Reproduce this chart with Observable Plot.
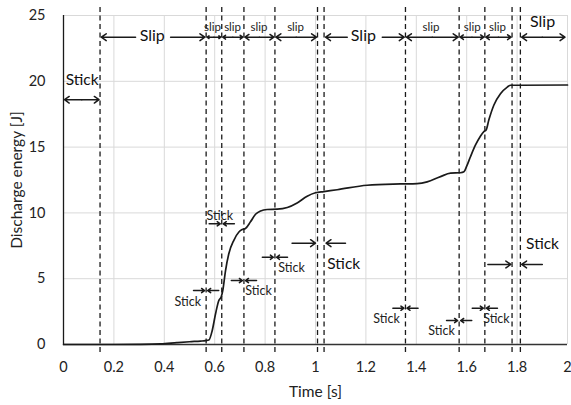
<!DOCTYPE html>
<html><head><meta charset="utf-8">
<script src="https://cdn.jsdelivr.net/npm/d3@7"></script>
<script src="https://cdn.jsdelivr.net/npm/@observablehq/plot@0.6"></script>
<style>body{margin:0;background:#fff}</style>
</head><body><div id="chart"></div>
<script>
// Discharge energy curve
const timeS   = [0, 0.2, 0.3, 0.385, 0.45, 0.5, 0.544, 0.563, 0.577, 0.590, 0.603, 0.616, 0.626, 0.632, 0.643, 0.656, 0.676, 0.696, 0.709, 0.722, 0.742, 0.762, 0.782, 0.808, 0.848, 0.888, 0.927, 0.967, 1.0, 1.033, 1.086, 1.205, 1.337, 1.403, 1.443, 1.496, 1.536, 1.575, 1.589, 1.600, 1.615, 1.635, 1.655, 1.668, 1.677, 1.688, 1.708, 1.734, 1.761, 1.774, 1.813, 2.0];
const energyJ = [0, 0, 0.01, 0.04, 0.14, 0.21, 0.26, 0.29, 0.34, 1.05, 2.3, 3.33, 3.63, 4.1, 5.62, 6.9, 7.92, 8.55, 8.73, 8.81, 9.32, 9.9, 10.15, 10.26, 10.28, 10.41, 10.76, 11.27, 11.53, 11.62, 11.76, 12.1, 12.2, 12.23, 12.36, 12.76, 13.02, 13.05, 13.12, 13.55, 14.27, 15.16, 15.85, 16.18, 16.3, 17.07, 18.2, 19.05, 19.56, 19.7, 19.7, 19.72];

// Axes
const xTicks = [0, 0.2, 0.4, 0.6, 0.8, 1, 1.2, 1.4, 1.6, 1.8, 2];
const xTickLabels = ["0", "0.2", "0.4", "0.6", "0.8", "1", "1.2", "1.4", "1.6", "1.8", "2"];
const yTicks = [0, 5, 10, 15, 20, 25];
const yTickLabels = ["0", "5", "10", "15", "20", "25"];

// Stick/slip boundaries (dashed lines)
const boundaries = [0.145, 0.566, 0.628, 0.716, 0.839, 1.008, 1.034, 1.357, 1.570, 1.672, 1.780, 1.813];
const boundaryExtent = [-0.6, 25.7];

// Top row: small "slip" spans
const rowV = 23.35;
const slipSmallStart = [0.566, 0.628, 0.716, 0.839, 1.357, 1.570, 1.672];
const slipSmallEnd   = [0.628, 0.716, 0.839, 1.008, 1.570, 1.672, 1.780];
const slipSmallLabelT = [0.591, 0.671, 0.776, 0.921, 1.458, 1.622, 1.722];
const slipSmallLabelV = 24.1;

// Large "Slip" labels and their arrows (from -> to)
const slipBigLabelT = [0.352, 1.19, 1.901];
const slipBigLabelV = [23.45, 23.45, 24.55];
const slipBigFrom = [0.286, 0.425, 1.126, 1.265, 1.9, 1.9];
const slipBigTo   = [0.150, 0.561, 1.040, 1.352, 1.818, 1.99];

// Small "Stick" markers: line position, arrow height, label position
const stickLine   = [0.566, 0.628, 0.716, 0.839, 1.357, 1.570, 1.672];
const stickArrowV = [4.10, 9.17, 4.86, 6.63, 2.76, 1.82, 2.76];
const stickLabelT = [0.493, 0.620, 0.774, 0.905, 1.282, 1.50, 1.718];
const stickLabelV = [3.21, 9.80, 4.10, 5.83, 1.90, 1.01, 1.90];
const stickHalf = 0.05, stickGap = 0.006;

// Large "Stick" labels and arrows
const stickBigLabelT = [0.074, 1.112, 1.901];
const stickBigLabelV = [20.06, 6.08, 7.60];
const stickBigFrom = [0.0725, 0.0725, 0.907, 1.119, 1.684, 1.90];
const stickBigTo   = [0.004, 0.141, 1.000, 1.042, 1.775, 1.818];
const stickBigV    = [18.6, 18.6, 7.70, 7.70, 6.08, 6.08];

const ink = "#1a1a1a";
const font = "Lato, 'Open Sans', sans-serif";

const curve = timeS.map((t, i) => ({t, e: energyJ[i]}));
const slipSmallArrows = slipSmallStart.flatMap((a, i) => {
  const m = (a + slipSmallEnd[i]) / 2;
  return [{x1: m, x2: a + 0.004, y: rowV}, {x1: m, x2: slipSmallEnd[i] - 0.004, y: rowV}];
});
const slipSmallLabels = slipSmallLabelT.map(t => ({t, v: slipSmallLabelV, s: "slip"}));
const slipBigLabels = slipBigLabelT.map((t, i) => ({t, v: slipBigLabelV[i], s: "Slip"}));
const slipBigArrows = slipBigFrom.map((f, i) => ({x1: f, x2: slipBigTo[i], y: rowV}));
const stickArrows = stickLine.flatMap((x, i) => [
  {x1: x - stickHalf, x2: x - stickGap, y: stickArrowV[i]},
  {x1: x + stickHalf, x2: x + stickGap, y: stickArrowV[i]}
]);
const stickLabels = stickLabelT.map((t, i) => ({t, v: stickLabelV[i], s: "Stick"}));
const stickBigLabels = stickBigLabelT.map((t, i) => ({t, v: stickBigLabelV[i], s: "Stick"}));
const stickBigArrows = stickBigFrom.map((f, i) => ({x1: f, x2: stickBigTo[i], y: stickBigV[i]}));

const arrowOpts = {x1: "x1", x2: "x2", y1: "y", y2: "y", stroke: ink, strokeWidth: 1.5, headLength: 6, headAngle: 70};

const chart = Plot.plot({
  width: 571, height: 405,
  marginLeft: 63, marginRight: 4, marginTop: 15, marginBottom: 61,
  style: {fontFamily: font, fontSize: "14.5px", color: "#222", background: "#fff", overflow: "visible"},
  x: {domain: [0, 2]},
  y: {domain: [0, 25]},
  marks: [
    Plot.gridX(xTicks.slice(1), {stroke: "#d9d9d9", strokeOpacity: 1}),
    Plot.gridY(yTicks.slice(1), {stroke: "#d9d9d9", strokeOpacity: 1}),
    Plot.axisX(xTicks, {tickSize: 0, tickPadding: 17, label: null, fontSize: 14.5,
      tickFormat: d => xTickLabels[xTicks.indexOf(d)]}),
    Plot.axisX([], {label: "Time [s]", labelAnchor: "center", labelArrow: "none", labelOffset: 52, fontSize: 15.5}),
    Plot.axisY(yTicks, {tickSize: 0, tickPadding: 18, label: null, fontSize: 14.5,
      tickFormat: d => yTickLabels[yTicks.indexOf(d)]}),
    Plot.axisY([], {label: "Discharge energy [J]", labelAnchor: "center", labelArrow: "none", labelOffset: 53, fontSize: 15.5}),
    Plot.ruleX(boundaries, {x: d => d, y1: boundaryExtent[0], y2: boundaryExtent[1], stroke: ink, strokeWidth: 1.3, strokeDasharray: "5,3.5"}),
    Plot.ruleY([0], {stroke: "#333", strokeWidth: 1.3}),
    Plot.ruleX([0], {stroke: ink, strokeWidth: 1.3}),
    Plot.line(curve, {x: "t", y: "e", stroke: ink, strokeWidth: 1.7, curve: "monotone-x"}),
    Plot.arrow(slipSmallArrows, arrowOpts),
    Plot.arrow(slipBigArrows, arrowOpts),
    Plot.arrow(stickArrows, arrowOpts),
    Plot.arrow(stickBigArrows, arrowOpts),
    Plot.text(slipSmallLabels, {x: "t", y: "v", text: "s", fontSize: 11.5, fill: "#222"}),
    Plot.text(slipBigLabels, {x: "t", y: "v", text: "s", fontSize: 16, fill: "#111"}),
    Plot.text(stickLabels, {x: "t", y: "v", text: "s", fontSize: 12.5, fill: "#222"}),
    Plot.text(stickBigLabels, {x: "t", y: "v", text: "s", fontSize: 15.5, fill: "#111"})
  ]
});
document.getElementById("chart").appendChild(chart);
</script>
</body></html>
